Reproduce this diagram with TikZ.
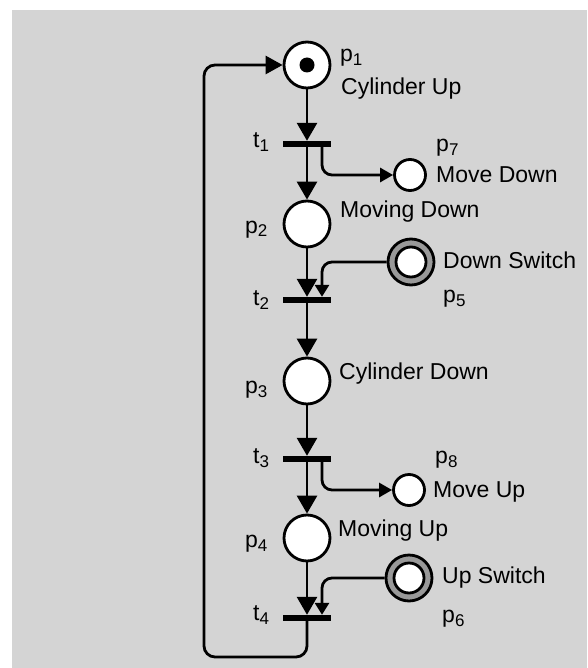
\documentclass[tikz,border=0pt]{standalone}
\usepackage{fontspec}
\setmainfont{Liberation Sans}
\usetikzlibrary{arrows.meta,positioning}
\newcommand{\sub}[1]{\raisebox{-4pt}{\fontsize{17}{20}\selectfont #1}}

\begin{document}
\begin{tikzpicture}[x=1pt, y=-1pt,
  placecirc/.style={circle, draw, line width=2.8pt, fill=white, minimum size=46pt, inner sep=0pt},
  smallcirc/.style={placecirc, minimum size=31pt},
  switchcirc/.style={placecirc, fill=black!40,
    path picture={\draw[line width=2.8pt, fill=white] (path picture bounding box.center) circle (15pt);}},
  transbar/.style={rectangle, fill=black, minimum width=48pt, minimum height=6pt, inner sep=0pt},
  lbl/.style={anchor=base west, inner sep=0pt, font=\fontsize{23}{27}\selectfont},
  flow/.style={line width=2.8pt, -{Triangle[length=18pt, width=20pt]}},
  sideflow/.style={line width=2.8pt, rounded corners=10pt, -{Triangle[length=13pt, width=14pt]}},
]
\useasboundingbox (0,0) rectangle (587,668);

% Background
\fill[black!17] (12,10) rectangle (587,668);

% Places of the cylinder cycle
\node[placecirc] (p1) at (307,65) {};
\node[placecirc] (p2) at (307,224) {};
\node[placecirc] (p3) at (307,381) {};
\node[placecirc] (p4) at (307,538) {};
\fill (p1) circle (7.5pt);

% Transitions
\node[transbar] (t1) at (307,144) {};
\node[transbar] (t2) at (307,300) {};
\node[transbar] (t3) at (307,459) {};
\node[transbar] (t4) at (307,618) {};

% Outputs and switches
\node[smallcirc] (p7) at (410,175) {};
\node[smallcirc] (p8) at (409,490) {};
\node[switchcirc] (p5) at (411,262) {};
\node[switchcirc] (p6) at (409,578) {};

% Labels
\node[lbl] (lp1) at (340,62) {p\sub{1}};
\node[lbl] (lcylup) at (341,95) {Cylinder Up};
\node[lbl] (lt1) at (253,148) {t\sub{1}};
\node[lbl] (lp7) at (436,152) {p\sub{7}};
\node[lbl] (lmovedown) at (436,183) {Move Down};
\node[lbl] (lmovingdown) at (340,218) {Moving Down};
\node[lbl] (lp2) at (245,233) {p\sub{2}};
\node[lbl] (ldownsw) at (443,268) {Down Switch};
\node[lbl] (lt2) at (253,305) {t\sub{2}};
\node[lbl] (lp5) at (443,302) {p\sub{5}};
\node[lbl] (lcyldown) at (339,379) {Cylinder Down};
\node[lbl] (lp3) at (245,393) {p\sub{3}};
\node[lbl] (lt3) at (253,463) {t\sub{3}};
\node[lbl] (lp8) at (435,463) {p\sub{8}};
\node[lbl] (lmoveup) at (433,497) {Move Up};
\node[lbl] (lmovingup) at (338,536) {Moving Up};
\node[lbl] (lp4) at (245,547) {p\sub{4}};
\node[lbl] (lupsw) at (442,583) {Up Switch};
\node[lbl] (lt4) at (253,620) {t\sub{4}};
\node[lbl] (lp6) at (442,622) {p\sub{6}};

% Main flow
\draw[flow] (p1) -- (t1);
\draw[flow] (t1) -- (p2);
\draw[flow] (p2) -- (t2);
\draw[flow] (t2) -- (p3);
\draw[flow] (p3) -- (t3);
\draw[flow] (t3) -- (p4);
\draw[flow] (p4) -- (t4);

% Side arcs
\draw[sideflow] ([xshift=15pt]t1.center) |- (p7);
\draw[sideflow] ([xshift=15pt]t3.center) |- (p8);
\draw[sideflow, -{Triangle[length=12pt, width=14pt]}] (p5) -| ([xshift=15pt]t2.north);
\draw[sideflow, -{Triangle[length=12pt, width=14pt]}] (p6) -| ([xshift=15pt]t4.north);

% Return to p1
\coordinate (loop) at (204,657);
\draw[flow, rounded corners=11pt, -{Triangle[length=17pt, width=18pt]}] (t4) |- (loop) |- (p1);

\end{tikzpicture}
\end{document}
